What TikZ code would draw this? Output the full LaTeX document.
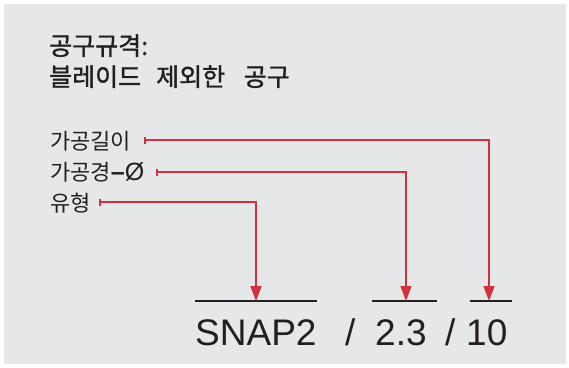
\documentclass[tikz,border=0pt]{standalone}
\usepackage{fontspec}
\setmainfont{Liberation Sans}
\newfontfamily\kr{Noto Sans CJK KR}
\newfontfamily\krm{Noto Sans CJK KR}[FakeBold=1.3]
\usetikzlibrary{arrows.meta}
\definecolor{bg}{HTML}{E6E7E9}
\definecolor{lred}{HTML}{D2303C}
\definecolor{ink}{HTML}{231F20}
\tikzset{
  titletxt/.style={anchor=base west, inner sep=0pt, text=ink, font=\krm\fontsize{25}{28}\selectfont},
  labeltxt/.style={anchor=base west, inner sep=0pt, text=ink, font=\kr\fontsize{22}{24}\selectfont},
  codetxt/.style={anchor=base west, inner sep=0pt, text=ink, font=\fontsize{37}{40}\selectfont},
  underline/.style={draw=ink, line width=1.5pt},
  pointer/.style={draw=lred, line width=1.5pt, {Bar[width=7pt,line width=1.5pt]}-{Triangle[width=11pt,length=15pt]}},
}
\begin{document}
\begin{tikzpicture}[x=1pt,y=-1pt]
\useasboundingbox (0,0) rectangle (569,367);
\fill[white] (0,0) rectangle (569,367);
\fill[bg] (4,4) rectangle (566,364);
% title
\node[titletxt] (title1) at (49,55) {공구규격:};
\node[titletxt] (title2a) at (49,86) {블레이드};
\node[titletxt] (title2b) at (156,86) {제외한};
\node[titletxt, anchor=base east] (title2c) at (290,86) {공구};
% labels
\node[labeltxt] (lab1) at (50,149) {가공길이};
\node[labeltxt] (lab2) at (50,180) {가공경{\fontspec{Liberation Sans}\fontsize{25}{26}\selectfont\bfseries–\mdseries Ø}};
\node[labeltxt] (lab3) at (50,211) {유형};
\coordinate (t1) at (144,140);
\coordinate (t2) at (156,172);
\coordinate (t3) at (99,202);
% underlines
\coordinate (u1a) at (195,301); \coordinate (u1b) at (317,301);
\coordinate (u2a) at (372,301); \coordinate (u2b) at (437,301);
\coordinate (u3a) at (470,301); \coordinate (u3b) at (512,301);
\draw[underline] (u1a) -- (u1b);
\draw[underline] (u2a) -- (u2b);
\draw[underline] (u3a) -- (u3b);
\coordinate (d1) at (489,301);
\coordinate (d2) at (406,301);
\coordinate (d3) at (256,301);
\draw[pointer] (t1) -| (d1);
\draw[pointer] (t2) -| (d2);
\draw[pointer] (t3) -| (d3);
% code
\node[codetxt] (c1) at (195,345) {SNAP2};
\node[codetxt] (c2) at (345,345) {/};
\node[codetxt] (c3) at (375,345) {2.3};
\node[codetxt] (c4) at (445,345) {/};
\node[codetxt] (c5) at (466,345) {10};
\end{tikzpicture}
\end{document}
